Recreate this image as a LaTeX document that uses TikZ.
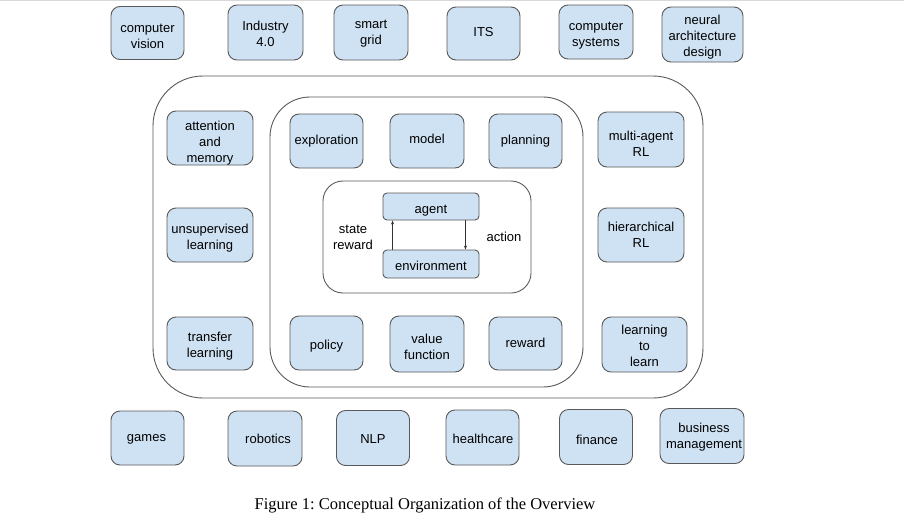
\documentclass[tikz,border=0pt]{standalone}
\usepackage{fontspec}
\setmainfont{Liberation Sans}
\newfontfamily\capfont{Liberation Serif}
\usetikzlibrary{arrows.meta}
\definecolor{boxfill}{HTML}{CFE2F3}
\definecolor{boxline}{HTML}{595959}
\definecolor{frameline}{HTML}{5A5A5A}
\tikzset{
  topic/.style={draw=boxline, fill=boxfill, line width=0.9pt, rounded corners=9pt,
    inner sep=0pt},
  frame/.style={draw=frameline, line width=0.9pt, inner sep=0pt},
  plain/.style={align=center, inner sep=0pt, font=\fontsize{13}{16}\selectfont},
  flow/.style={draw=black!80, line width=0.6pt, -{Stealth[length=4pt,width=3pt]}}
}
% #1 name, #2/#3 centre, #4/#5 size, #6/#7 text offset, #8 text
\newcommand{\topicbox}[8]{%
  \node[topic, minimum width=#4pt, minimum height=#5pt] (#1) at (#2,#3) {};
  \node[plain] (#1-txt) at ([xshift=#6pt,yshift=-#7pt]#1.center) {#8};}
\begin{document}
\begin{tikzpicture}[x=1pt,y=-1pt]
\useasboundingbox (0,0) rectangle (904,530);
\fill[white] (0,0) rectangle (904,530);
\draw[black!15, line width=1pt] (0,0.5) -- (904,0.5);

% nested frames
\node[frame, rounded corners=50pt, minimum width=550pt, minimum height=322pt] (outer) at (428,237) {};
\node[frame, rounded corners=40pt, minimum width=313pt, minimum height=290pt] (middle) at (426.5,242) {};
\node[frame, rounded corners=20pt, minimum width=208pt, minimum height=112pt] (inner) at (427,237) {};

% application areas, top row
\topicbox{cv}{147.5}{33}{73}{53}{0}{3}{computer\\vision}
\topicbox{ind}{265.5}{32.5}{75}{55}{0}{1}{Industry\\4.0}
\topicbox{grid}{371}{32.5}{74}{55}{0}{1}{smart\\grid}
\topicbox{its}{483.5}{33.5}{73}{53}{0}{-1}{ITS}
\topicbox{sys}{596}{32}{74}{54}{0}{4}{computer\\systems}
\topicbox{nad}{702.5}{34.5}{81}{55}{0}{3}{neural\\architecture\\design}

% application areas, bottom row
\topicbox{games}{147.5}{438}{73}{54}{-1}{1}{games}
\topicbox{robot}{265}{438.5}{74}{55}{3}{0}{robotics}
\topicbox{nlp}{373}{438}{73}{55}{0}{1}{NLP}
\topicbox{health}{482.5}{437.5}{73}{55}{0.5}{1}{healthcare}
\topicbox{fin}{596}{437}{73}{55}{1}{3}{finance}
\topicbox{biz}{702}{436}{84}{55}{2}{1.5}{business\\management}

% advanced topics, left column
\topicbox{att}{210}{138}{86}{54}{0}{5}{attention\\and\\memory}
\topicbox{unsup}{210}{235}{86}{54}{0}{3}{unsupervised\\learning}
\topicbox{transfer}{210}{343.5}{86}{53}{0}{3}{transfer\\learning}

% advanced topics, right column
\topicbox{marl}{641}{139.5}{86}{55}{0}{4}{multi-agent\\RL}
\topicbox{hrl}{641}{235}{86}{54}{0}{0}{hierarchical\\RL}
\topicbox{l2l}{644.5}{344.5}{85}{55}{0}{1}{learning\\to\\learn}

% core elements
\topicbox{expl}{326.5}{141}{73}{54}{0}{0}{exploration}
\topicbox{model}{427}{141}{74}{54}{0}{-2}{model}
\topicbox{plan}{525.5}{141}{73}{54}{0}{0}{planning}
\topicbox{policy}{326.5}{343}{73}{54}{0}{3}{policy}
\topicbox{value}{427}{344}{74}{56}{0}{3}{value\\function}
\topicbox{reward}{525.5}{343.5}{73}{53}{0}{-1}{reward}

% agent-environment loop
\node[topic, rounded corners=4pt, minimum width=96pt, minimum height=27pt] (agent) at (431,206.5) {};
\node[plain] (agent-txt) at ([yshift=-4pt]agent.center) {agent};
\node[topic, rounded corners=4pt, minimum width=96pt, minimum height=28pt] (env) at (431,264) {};
\node[plain] (env-txt) at ([yshift=-2pt]env.center) {environment};
\draw[flow] ([xshift=10pt]env.north west) -- ([xshift=10pt]agent.south west);
\draw[flow] ([xshift=-14pt]agent.south east) -- ([xshift=-14pt]env.north east);
\node[plain] (sr) at (353,237.5) {state\\reward};
\node[plain] (act) at (504,237) {action};

% caption
\node[inner sep=0pt, font=\capfont\fontsize{16.5}{19}\selectfont] (cap) at (425,505) {\frenchspacing Figure 1: Conceptual Organization of the Overview};
\end{tikzpicture}
\end{document}
